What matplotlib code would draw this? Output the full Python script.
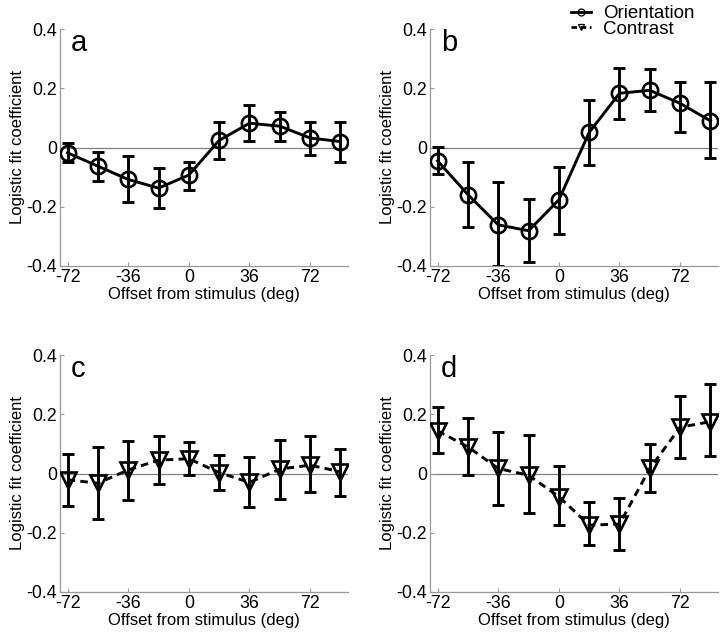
import matplotlib
matplotlib.use("Agg")
import matplotlib.pyplot as plt
from matplotlib.lines import Line2D

plt.rcParams['font.family'] = ['Liberation Sans', 'DejaVu Sans']

offsets = [-72, -54, -36, -18, 0, 18, 36, 54, 72, 90]
xticks = [-72, -36, 0, 36, 72]
yticks = [-0.4, -0.2, 0, 0.2, 0.4]
ytick_labels = ['-0.4', '-0.2', '0', '0.2', '0.4']
xtick_labels = ['-72', '-36', '0', '36', '72']

a_mean = [-0.018, -0.063, -0.108, -0.137, -0.093, 0.024, 0.082, 0.072, 0.032, 0.020]
a_top = [0.015, -0.016, -0.030, -0.069, -0.049, 0.087, 0.143, 0.121, 0.086, 0.085]
a_bot = [-0.050, -0.112, -0.183, -0.203, -0.142, -0.038, 0.021, 0.023, -0.024, -0.049]

b_mean = [-0.045, -0.159, -0.261, -0.281, -0.177, 0.051, 0.183, 0.193, 0.149, 0.090]
b_top = [0.003, -0.049, -0.118, -0.173, -0.066, 0.162, 0.269, 0.265, 0.220, 0.221]
b_bot = [-0.090, -0.270, -0.400, -0.386, -0.291, -0.060, 0.097, 0.122, 0.052, -0.034]

c_mean = [-0.021, -0.033, 0.012, 0.045, 0.050, 0.003, -0.030, 0.015, 0.028, 0.006]
c_top = [0.065, 0.088, 0.110, 0.125, 0.106, 0.062, 0.056, 0.112, 0.126, 0.083]
c_bot = [-0.109, -0.154, -0.089, -0.036, -0.005, -0.057, -0.114, -0.087, -0.063, -0.075]

d_mean = [0.144, 0.090, 0.017, -0.006, -0.078, -0.174, -0.171, 0.017, 0.156, 0.175]
d_top = [0.225, 0.189, 0.141, 0.129, 0.027, -0.095, -0.083, 0.098, 0.260, 0.301]
d_bot = [0.068, -0.006, -0.105, -0.132, -0.174, -0.241, -0.258, -0.063, 0.054, 0.060]

dash = (0, (2.6, 1.8))
panels = [
    ('a', a_mean, a_top, a_bot, 'o', '-'),
    ('b', b_mean, b_top, b_bot, 'o', '-'),
    ('c', c_mean, c_top, c_bot, 'v', dash),
    ('d', d_mean, d_top, d_bot, 'v', dash),
]

W, H = 720, 634
fig = plt.figure(figsize=(W / 100, H / 100), dpi=100)

rects = [(60, 29, 288, 237), (430, 29, 288, 237), (60, 355, 288, 237), (430, 355, 288, 237)]
gray = '#999999'
for (lab, m, t, b, mk, ls), (l, tp, w, h) in zip(panels, rects):
    ax = fig.add_axes([l / W, 1 - (tp + h) / H, w / W, h / H])
    ax.axhline(0, color='#808080', lw=0.9, zorder=1)
    yerr = [[mi - bi for mi, bi in zip(m, b)], [ti - mi for ti, mi in zip(t, m)]]
    ax.errorbar(offsets, m, yerr=yerr, fmt='none', ecolor='black', elinewidth=2.1,
                capsize=4.5, capthick=2.1, zorder=2)
    ax.plot(offsets, m, color='black', lw=2.1, linestyle=ls, marker=mk, markersize=11,
            markerfacecolor='none', markeredgecolor='black', markeredgewidth=1.9, zorder=3)
    ax.set_xlim(-76.5, 94.5)
    ax.set_ylim(-0.4, 0.4)
    ax.set_xticks(xticks)
    ax.set_xticklabels(xtick_labels)
    ax.set_yticks(yticks)
    ax.set_yticklabels(ytick_labels)
    for s in ['top', 'right']:
        ax.spines[s].set_visible(False)
    for s in ['left', 'bottom']:
        ax.spines[s].set_color(gray)
        ax.spines[s].set_linewidth(0.9)
    ax.tick_params(direction='in', length=3, color=gray, labelsize=12.8, pad=2)
    ax.set_xlabel('Offset from stimulus (deg)', fontsize=12, labelpad=1)
    ax.set_ylabel('Logistic fit coefficient', fontsize=12, labelpad=1.5)
    ax.text(11 / w, 1.0, lab, transform=ax.transAxes, fontsize=21, va='top', ha='left')
    ax.patch.set_alpha(0)

handles = [
    Line2D([], [], color='black', lw=2.0, ls='-', marker='o', markersize=5,
           markerfacecolor='none', markeredgewidth=0.9),
    Line2D([], [], color='black', lw=2.0, ls=(0, (2, 1.3)), marker='v', markersize=5,
           markerfacecolor='none', markeredgewidth=0.9),
]
fig.legend(handles, ['Orientation', 'Contrast'], loc='upper left',
           bbox_to_anchor=(560 / W, 1 + 6 / H), frameon=False, fontsize=13.5,
           handlelength=1.05, handletextpad=0.65, labelspacing=-0.08, borderpad=0.1)

fig.savefig('out.png', dpi=100)
